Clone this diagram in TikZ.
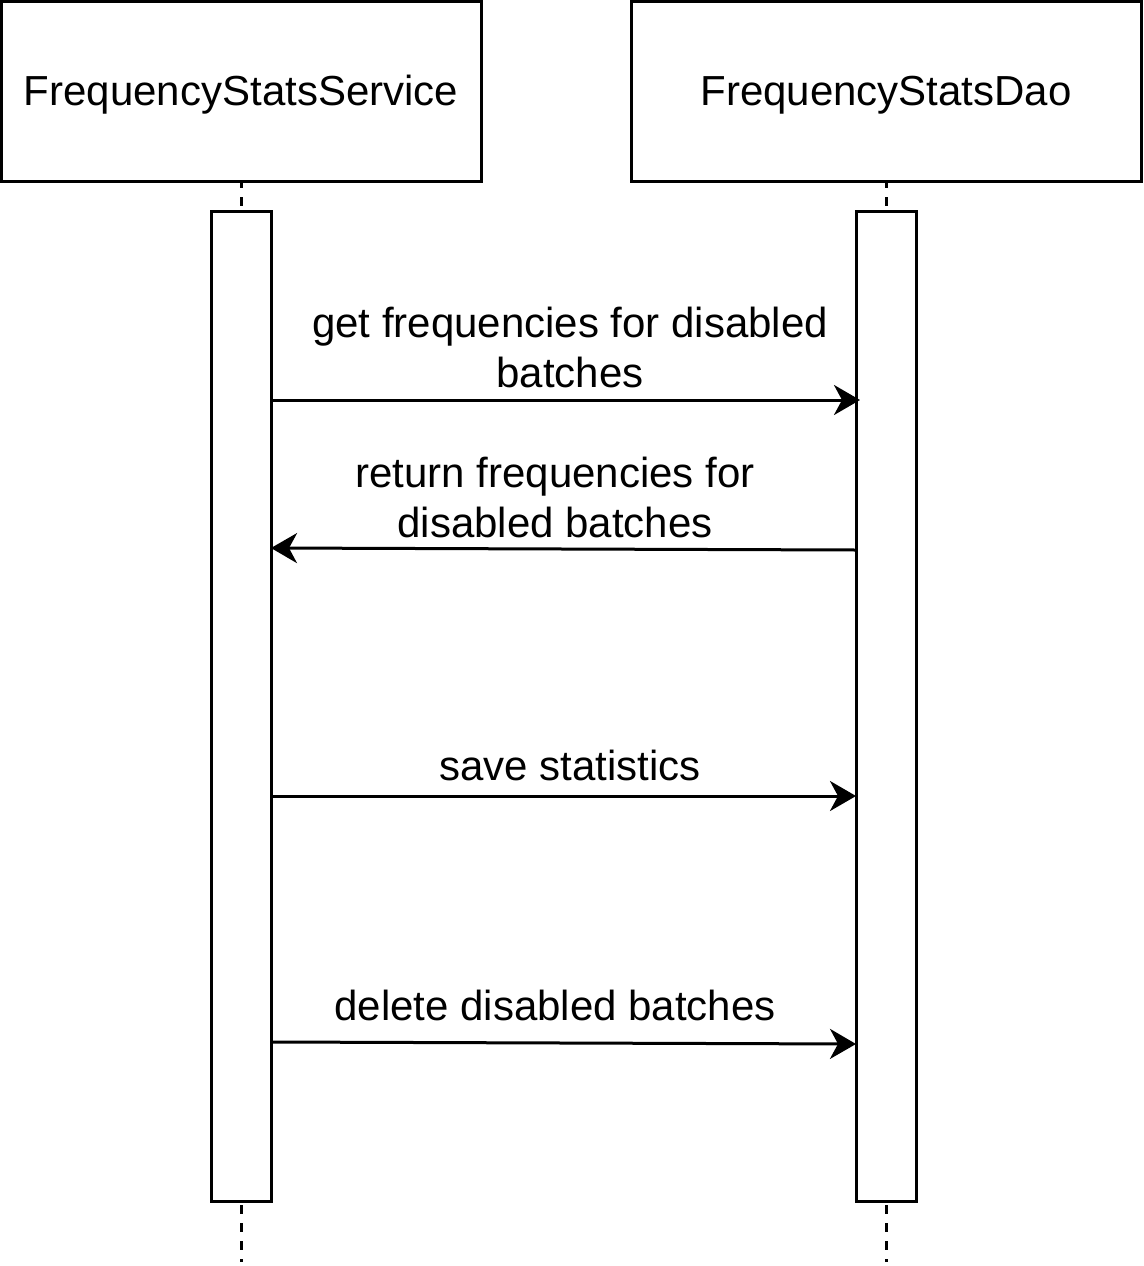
\documentclass[tikz,border=0pt]{standalone}
\usepackage{fontspec}
\setmainfont{Liberation Sans}
\usetikzlibrary{arrows.meta}
\begin{document}
\begin{tikzpicture}[x=1pt,y=-1pt,
  actor/.style={line width=3pt,draw,fill=white},
  bar/.style={line width=3pt,draw,fill=white},
  life/.style={line width=3pt,dash pattern=on 9pt off 9pt,dash phase=1pt},
  msg/.style={line width=3pt,-{Stealth[length=26pt,width=30pt,inset=8pt]}},
  lbl/.style={font=\fontsize{42}{50}\selectfont,align=center,inner sep=0pt}]
\useasboundingbox (0,0) rectangle (1143,1266);
% lifelines
\coordinate (ls1) at (241,180); \coordinate (ls2) at (241,1262);
\coordinate (rs1) at (886,180); \coordinate (rs2) at (886,1262);
\draw[life] (ls1) -- (ls2);
\draw[life] (rs1) -- (rs2);
% actors
\node[actor,minimum width=480pt,minimum height=180pt] (svc) at (241,91) {};
\node[actor,minimum width=510pt,minimum height=180pt] (dao) at (886,91) {};
\node[lbl] (svct) at (241,95) {FrequencyStatsService};
\node[lbl] (daot) at (886,95) {FrequencyStatsDao};
% activation bars
\path[bar] (211,211) rectangle (271,1201);
\path[bar] (856,211) rectangle (916,1201);
% message endpoints
\coordinate (a1) at (271,400); \coordinate (b1) at (860,400);
\coordinate (a2) at (856,550); \coordinate (b2) at (271,548);
\coordinate (a3) at (271,796); \coordinate (b3) at (856,796);
\coordinate (a4) at (271,1042); \coordinate (b4) at (856,1044);
\draw[msg] (a1) -- (b1);
\draw[msg] (a2) -- (b2);
\draw[msg] (a3) -- (b3);
\draw[msg] (a4) -- (b4);
% labels
\node[lbl] (t1) at (570,347) {get frequencies for disabled\\batches};
\node[lbl] (t2) at (555,497) {return frequencies for\\disabled batches};
\node[lbl] (t3) at (570,765) {save statistics};
\node[lbl] (t4) at (555,1005) {delete disabled batches};
\end{tikzpicture}
\end{document}
